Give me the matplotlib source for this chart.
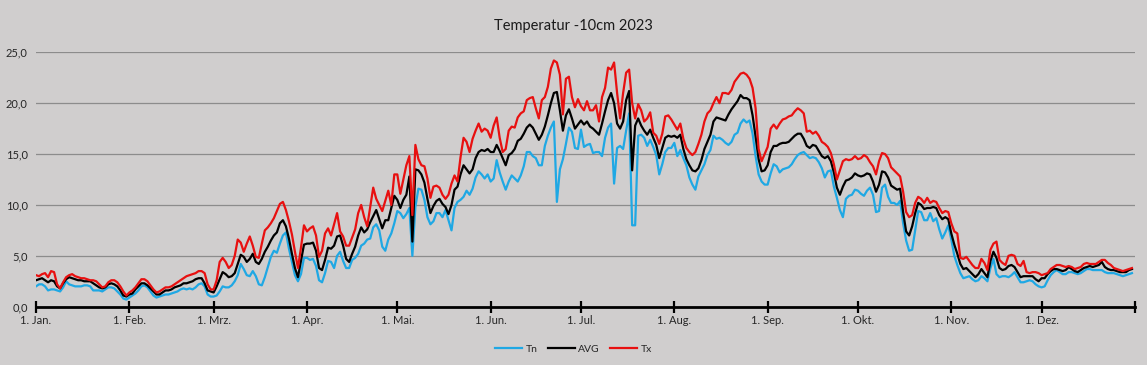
import numpy as np
import matplotlib
matplotlib.use("Agg")
import matplotlib.pyplot as plt
from matplotlib.ticker import FuncFormatter

# daily values 2023 (day 0 = 1. Jan)
TX = [
    3.1, 3.0, 3.2, 3.3, 2.9, 3.5, 3.4, 2.2, 1.8, 2.4,
    2.9, 3.1, 3.2, 3.0, 2.9, 2.8, 2.8, 2.7, 2.6, 2.6,
    2.5, 2.2, 1.9, 2.0, 2.4, 2.6, 2.6, 2.4, 2.0, 1.5,
    1.1, 1.4, 1.6, 1.9, 2.3, 2.7, 2.7, 2.5, 2.1, 1.7,
    1.4, 1.5, 1.7, 1.9, 1.9, 2.0, 2.2, 2.4, 2.6, 2.8,
    3.0, 3.1, 3.2, 3.3, 3.5, 3.5, 3.3, 2.2, 1.7, 1.7,
    2.6, 4.4, 4.8, 4.4, 3.8, 4.1, 5.0, 6.6, 6.3, 5.4,
    6.2, 6.9, 6.0, 4.9, 4.8, 6.2, 7.5, 7.8, 8.2, 8.7,
    9.4, 10.1, 10.3, 9.5, 8.4, 7.1, 5.4, 3.8, 5.8, 8.0,
    7.4, 7.7, 7.9, 7.0, 4.9, 5.5, 7.2, 7.7, 7.0, 8.1,
    9.2, 7.4, 6.9, 6.0, 6.0, 6.8, 7.6, 9.2, 10.0, 8.8,
    7.9, 9.8, 11.7, 10.6, 10.0, 9.4, 10.4, 11.4, 10.0, 13.0,
    13.0, 11.1, 12.5, 13.9, 14.8, 9.0, 15.9, 14.5, 13.9, 13.8,
    12.6, 10.7, 11.8, 11.9, 11.7, 11.0, 10.6, 11.0, 12.1, 12.9,
    12.3, 14.7, 16.6, 16.2, 15.2, 16.5, 17.3, 18.0, 17.2, 17.5,
    17.3, 16.6, 17.8, 18.6, 16.6, 15.2, 15.5, 17.3, 17.7, 17.6,
    18.6, 19.0, 19.2, 20.3, 20.5, 20.6, 19.5, 18.5, 20.3, 20.6,
    21.6, 23.4, 24.2, 24.0, 22.8, 18.9, 22.4, 22.6, 20.6, 19.6,
    20.4, 19.7, 19.3, 20.2, 19.3, 19.3, 19.8, 18.2, 20.6, 21.5,
    23.5, 23.3, 24.0, 21.0, 18.5, 21.0, 23.0, 23.3, 20.0, 18.5,
    19.9, 19.3, 18.2, 18.5, 19.1, 17.1, 16.8, 16.0, 17.0, 18.7,
    18.8, 18.4, 17.9, 17.4, 18.0, 16.5, 15.6, 15.2, 14.9, 15.2,
    16.0, 16.9, 18.2, 19.0, 19.3, 20.0, 20.6, 20.0, 21.0, 21.0,
    20.9, 21.3, 22.1, 22.5, 22.9, 23.0, 22.8, 22.4, 21.5, 19.5,
    15.5, 14.3, 15.0, 15.7, 17.5, 17.9, 17.5, 18.0, 18.4, 18.5,
    18.7, 18.8, 19.2, 19.5, 19.3, 19.0, 17.2, 17.3, 17.0, 17.2,
    16.8, 16.2, 16.0, 15.7, 15.1, 14.0, 12.5, 13.4, 14.3, 14.5,
    14.4, 14.5, 14.8, 14.5, 14.6, 14.9, 14.7, 14.2, 13.8, 13.0,
    14.3, 15.1, 15.0, 14.6, 13.7, 13.4, 13.1, 12.8, 11.3, 9.3,
    8.8, 9.0, 10.2, 10.8, 10.6, 10.2, 10.7, 10.2, 10.4, 10.3,
    9.7, 9.2, 9.4, 9.3, 8.2, 7.4, 7.2, 4.8, 4.7, 4.9,
    4.5, 4.1, 3.8, 3.8, 4.7, 4.3, 3.6, 5.6, 6.2, 6.4,
    4.6, 4.3, 4.1, 5.0, 5.1, 5.0, 4.2, 4.0, 4.5, 3.4,
    3.3, 3.4, 3.4, 3.3, 3.1, 3.2, 3.3, 3.7, 3.9, 4.1,
    4.1, 4.0, 3.9, 4.0, 3.9, 3.7, 3.8, 3.9, 4.2, 4.3,
    4.2, 4.2, 4.2, 4.4, 4.6, 4.6, 4.3, 4.1, 3.8, 3.7,
    3.6, 3.5, 3.6, 3.7, 3.8,
]

AVG = [
    2.6, 2.7, 2.8, 2.6, 2.4, 2.6, 2.5, 2.0, 1.8, 2.3,
    2.7, 2.9, 2.8, 2.7, 2.6, 2.6, 2.5, 2.5, 2.5, 2.3,
    2.1, 1.9, 1.8, 1.9, 2.2, 2.3, 2.2, 2.0, 1.6, 1.1,
    1.0, 1.2, 1.3, 1.7, 2.0, 2.3, 2.3, 2.1, 1.8, 1.5,
    1.2, 1.2, 1.4, 1.6, 1.6, 1.7, 1.9, 2.0, 2.1, 2.3,
    2.3, 2.4, 2.5, 2.7, 2.8, 2.8, 2.3, 1.6, 1.5, 1.4,
    2.0, 2.7, 3.4, 3.2, 2.9, 3.0, 3.3, 4.2, 5.1, 4.9,
    4.4, 4.7, 5.2, 4.4, 4.2, 4.7, 5.4, 5.9, 6.5, 7.0,
    7.3, 8.2, 8.5, 7.9, 6.7, 5.2, 3.8, 2.9, 4.5, 6.1,
    6.2, 6.2, 6.3, 5.5, 3.8, 3.6, 4.6, 5.8, 5.7, 6.0,
    6.9, 7.0, 6.0, 4.7, 4.4, 5.2, 5.9, 7.0, 7.8, 7.3,
    7.6, 8.3, 8.9, 9.5, 8.6, 7.7, 8.5, 8.5, 9.7, 10.9,
    10.5, 9.7, 10.5, 11.0, 12.8, 6.4, 13.5, 13.4, 13.0, 12.2,
    10.6, 9.2, 9.9, 10.4, 10.6, 10.1, 9.8, 9.1, 10.0, 11.5,
    11.8, 13.0, 13.9, 13.5, 13.1, 13.5, 14.6, 15.2, 15.4, 15.3,
    15.5, 15.2, 15.2, 15.9, 15.3, 14.6, 13.9, 14.9, 15.1, 15.5,
    16.3, 16.5, 17.0, 17.6, 17.9, 17.6, 17.0, 16.4, 16.9, 17.7,
    18.8, 20.0, 21.0, 21.1, 19.3, 17.3, 18.8, 19.4, 18.5, 17.5,
    17.9, 18.3, 17.9, 18.2, 17.7, 17.5, 17.2, 16.9, 18.0, 19.2,
    20.3, 21.0, 20.0, 18.0, 17.5, 18.2, 20.3, 21.2, 13.4, 17.8,
    18.5, 17.8, 17.3, 16.9, 17.4, 16.6, 15.9, 14.6, 15.6, 16.6,
    16.8, 16.7, 16.8, 16.6, 16.9, 15.5, 14.5, 13.9, 13.4, 13.3,
    13.6, 14.4, 15.5, 16.2, 16.9, 18.2, 18.6, 18.5, 18.4, 18.3,
    18.9, 19.4, 19.8, 20.2, 20.8, 20.5, 20.5, 20.3, 18.8, 16.7,
    14.5, 13.3, 13.4, 13.9, 15.2, 15.8, 15.8, 16.0, 16.1, 16.1,
    16.2, 16.5, 16.8, 17.0, 17.0, 16.5, 15.8, 15.6, 15.9, 15.8,
    15.3, 14.8, 14.6, 14.8, 14.3, 13.2, 11.7, 11.0, 11.8, 12.4,
    12.5, 12.7, 13.1, 12.9, 12.8, 12.9, 13.1, 13.0, 12.3, 11.3,
    12.0, 13.3, 13.2, 12.7, 11.9, 11.7, 11.5, 11.6, 9.3, 7.4,
    7.0, 7.9, 9.2, 10.2, 10.0, 9.6, 9.7, 9.7, 9.8, 9.7,
    9.0, 8.6, 8.8, 8.6, 7.2, 6.1, 5.2, 4.2, 3.7, 3.8,
    3.5, 3.2, 2.9, 3.2, 3.7, 3.3, 2.9, 4.5, 5.4, 4.8,
    3.8, 3.6, 3.7, 4.0, 4.1, 3.9, 3.4, 2.9, 3.0, 3.0,
    3.0, 3.0, 2.7, 2.5, 2.8, 2.8, 3.2, 3.5, 3.7, 3.7,
    3.6, 3.5, 3.6, 3.9, 3.7, 3.5, 3.4, 3.6, 3.8, 3.9,
    4.0, 3.9, 4.0, 4.1, 4.4, 3.9, 3.7, 3.6, 3.6, 3.5,
    3.4, 3.4, 3.4, 3.6, 3.7,
]

TN = [
    2.0, 2.2, 2.2, 2.0, 1.6, 1.7, 1.7, 1.6, 1.5, 1.9,
    2.5, 2.2, 2.1, 2.0, 2.0, 2.0, 2.1, 2.1, 2.0, 1.6,
    1.6, 1.6, 1.5, 1.7, 1.9, 1.9, 1.8, 1.5, 1.2, 0.8,
    0.7, 0.9, 1.1, 1.3, 1.6, 2.0, 2.1, 1.9, 1.5, 1.1,
    0.9, 1.0, 1.1, 1.2, 1.2, 1.3, 1.4, 1.5, 1.7, 1.8,
    1.7, 1.8, 1.7, 1.9, 2.2, 2.3, 2.0, 1.2, 1.0, 1.0,
    1.1, 1.5, 2.0, 1.9, 1.9, 2.1, 2.5, 3.1, 4.2, 3.7,
    3.1, 3.0, 3.5, 3.0, 2.2, 2.1, 2.9, 3.9, 4.9, 5.5,
    5.3, 6.2, 7.0, 7.3, 5.7, 4.4, 3.1, 2.5, 3.2, 4.8,
    4.8, 4.6, 4.7, 4.0, 2.6, 2.4, 3.3, 4.5, 4.4, 3.8,
    5.0, 5.4, 4.5, 3.8, 3.8, 4.6, 4.8, 5.2, 6.0, 6.2,
    6.6, 6.7, 7.8, 8.1, 7.5, 5.9, 5.5, 6.6, 7.2, 8.2,
    9.4, 9.2, 8.7, 9.1, 9.7, 5.0, 9.8, 11.6, 11.5, 10.5,
    8.8, 8.1, 8.4, 9.2, 9.2, 8.8, 9.5, 8.5, 7.5, 9.7,
    10.3, 10.5, 10.8, 11.4, 11.0, 11.6, 12.7, 13.3, 13.0, 12.6,
    13.0, 12.3, 12.6, 14.4, 13.2, 12.3, 11.5, 12.3, 12.9, 12.6,
    12.3, 12.9, 13.8, 15.2, 15.2, 14.8, 14.6, 13.9, 13.9, 15.8,
    16.8, 17.6, 18.2, 10.3, 13.5, 14.5, 16.0, 17.6, 17.2, 15.6,
    15.5, 17.4, 15.7, 15.9, 16.0, 15.1, 15.2, 15.2, 14.8, 16.6,
    17.6, 18.0, 12.1, 15.6, 15.8, 15.5, 17.3, 19.0, 8.0, 8.0,
    16.8, 16.9, 16.6, 15.8, 16.4, 15.7, 14.9, 13.0, 14.0, 15.2,
    15.6, 15.6, 16.1, 14.8, 15.4, 14.6, 13.9, 12.7, 12.0, 11.5,
    12.8, 13.4, 14.0, 14.9, 15.4, 16.8, 16.5, 16.6, 16.4, 16.1,
    15.9, 16.2, 16.9, 17.1, 18.0, 18.4, 18.1, 18.3, 17.0, 14.8,
    13.0, 12.3, 12.0, 12.0, 13.1, 14.0, 13.8, 13.2, 13.5, 13.6,
    13.7, 14.0, 14.5, 14.9, 15.1, 15.2, 14.9, 14.6, 14.7, 14.6,
    14.2, 13.6, 12.7, 13.3, 13.4, 11.8, 10.7, 9.5, 8.8, 10.6,
    10.9, 11.0, 11.5, 11.4, 11.1, 10.9, 11.4, 11.7, 11.0, 9.3,
    9.4, 11.7, 12.0, 10.8, 10.2, 10.2, 10.0, 10.4, 8.2, 6.5,
    5.5, 5.6, 7.5, 9.4, 9.3, 8.5, 8.5, 9.2, 8.4, 8.7,
    7.6, 6.7, 7.3, 8.0, 6.6, 5.0, 4.1, 3.3, 2.8, 2.9,
    3.0, 2.7, 2.5, 2.6, 3.0, 2.8, 2.5, 3.8, 4.7, 3.2,
    2.9, 3.0, 3.0, 2.9, 3.1, 3.4, 2.9, 2.4, 2.4, 2.5,
    2.6, 2.5, 2.2, 2.0, 1.9, 2.0, 2.6, 3.1, 3.4, 3.6,
    3.4, 3.2, 3.2, 3.4, 3.4, 3.3, 3.2, 3.3, 3.5, 3.7,
    3.7, 3.6, 3.6, 3.6, 3.6, 3.4, 3.3, 3.3, 3.3, 3.2,
    3.1, 3.0, 3.1, 3.2, 3.3,
]

MONTH_LABELS = ["1. Jan.", "1. Feb.", "1. Mrz.", "1. Apr.", "1. Mai.", "1. Jun.",
                "1. Jul.", "1. Aug.", "1. Sep.", "1. Okt.", "1. Nov.", "1. Dez."]
MONTH_DAYS = [31, 28, 31, 30, 31, 30, 31, 31, 30, 31, 30, 31]

BG = "#d0cece"
FONT = ["Lato", "DejaVu Sans"]
TEXT_COLOR = "#262626"


def main():
    plt.rcParams['font.family'] = FONT
    days = np.arange(len(AVG))
    month_starts = np.concatenate([[0], np.cumsum(MONTH_DAYS)[:-1]])

    fig = plt.figure(figsize=(11.47, 3.65), dpi=100, facecolor=BG)
    ax = fig.add_axes([0.0314, 0.1597, 0.9581, 0.6970], facecolor=BG)

    ax.plot(days, TN, color="#1fa8e4", lw=1.6, label="Tn")
    ax.plot(days, AVG, color="black", lw=1.6, label="AVG")
    ax.plot(days, TX, color="#e81010", lw=1.6, label="Tx")

    ax.set_xlim(0, 365)
    ax.set_ylim(0, 25)
    ax.set_yticks(np.arange(0, 26, 5))
    ax.yaxis.set_major_formatter(FuncFormatter(lambda v, p: ("%.1f" % v).replace(".", ",")))
    ax.grid(axis="y", color="#8c8c8c", lw=0.9)
    ax.set_axisbelow(True)

    ax.set_xticks(list(month_starts) + [365])
    ax.set_xticklabels(MONTH_LABELS + [""])

    for s in ["top", "right", "left"]:
        ax.spines[s].set_visible(False)
    ax.spines["bottom"].set_linewidth(2.0)
    ax.tick_params(axis="x", direction="inout", length=8, width=1.6, labelsize=8,
                   pad=2, labelcolor=TEXT_COLOR)
    ax.tick_params(axis="y", length=0, labelsize=8, pad=6, labelcolor=TEXT_COLOR)

    # title and legend are centred on the whole figure, not on the axes
    fig.text(0.5, 1 - 26 / 365, "Temperatur -10cm 2023", fontsize=10.5,
             ha="center", va="center", color="#1a1a1a")

    handles, labels = ax.get_legend_handles_labels()
    fig.legend(handles, labels, loc="center", bbox_to_anchor=(0.5, 1 - 349 / 365), ncol=3,
               frameon=False, fontsize=7.5, handlelength=2.6, handletextpad=0.3,
               columnspacing=1.0, labelcolor=TEXT_COLOR)

    plt.savefig("out.png", dpi=100, facecolor=BG)


if __name__ == "__main__":
    main()
